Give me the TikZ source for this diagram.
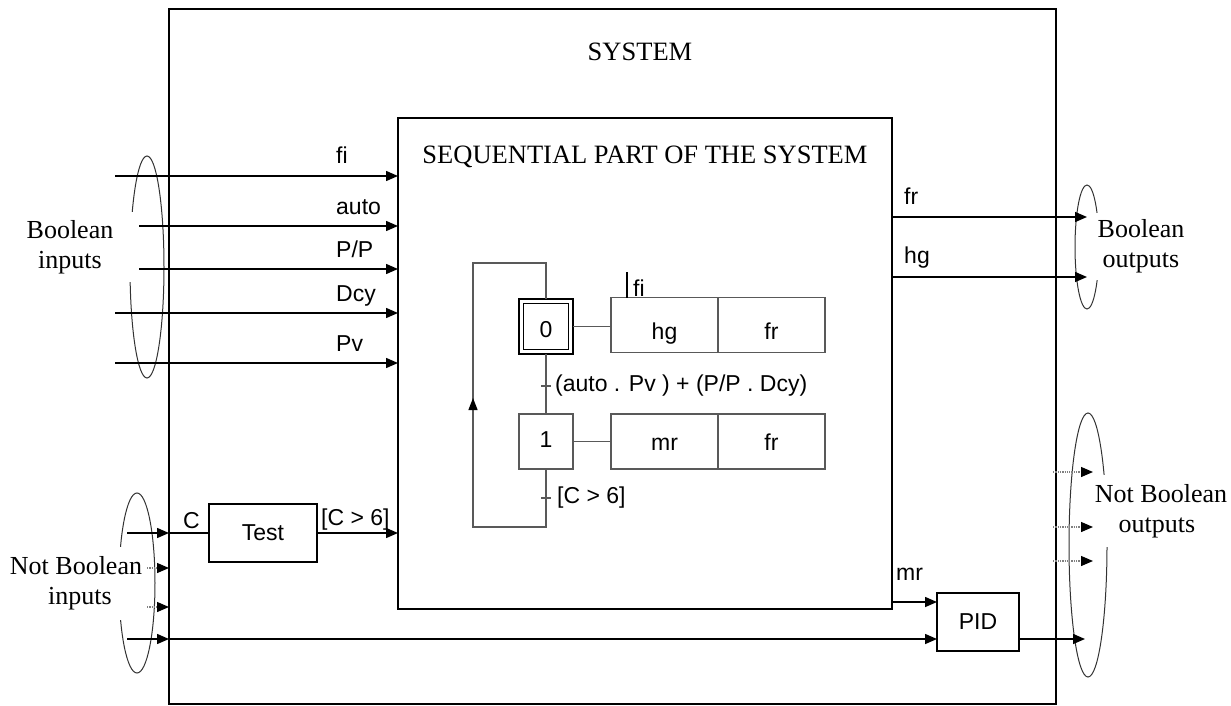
\documentclass[tikz,border=0pt]{standalone}
\usepackage{fontspec}
\setmainfont{Liberation Serif}
\setsansfont{Liberation Sans}
\usetikzlibrary{arrows.meta,shapes.geometric}
\begin{document}
\begin{tikzpicture}[x=1pt,y=-1pt,
  serif/.style={font=\fontsize{26.5}{30}\selectfont, inner sep=1pt},
  sans/.style={font=\sffamily\fontsize{23}{27}\selectfont, inner sep=1pt},
  bigbox/.style={draw, line width=2.6pt, inner sep=0pt, outer sep=0pt},
  smallbox/.style={draw, line width=1.3pt, inner sep=0pt, outer sep=0pt, font=\sffamily\fontsize{23}{27}\selectfont},
  gfc/.style={draw=black!65, line width=1.3pt},
  stepbox/.style={draw=black!65, line width=1.3pt, inner sep=0pt, outer sep=0pt, minimum width=54pt, minimum height=55pt, font=\sffamily\fontsize{23}{27}\selectfont},
  actbox/.style={draw=black!65, line width=1.3pt, inner sep=0pt, outer sep=0pt, minimum width=107pt, minimum height=55pt, font=\sffamily\fontsize{23}{27}\selectfont},
  toprow/.style={text height=29pt, text depth=1pt},
  lowrow/.style={text height=18pt, text depth=1pt},
  arr/.style={line width=1.5pt, -{Triangle[length=12pt,width=10pt]}},
  darr/.style={line width=1.3pt, densely dotted, draw=black!50, -{Triangle[length=12pt,width=10pt,color=black]}},
  grp/.style={draw=black!80, line width=1pt, ellipse, inner sep=0pt, outer sep=0pt},
  cover/.style={fill=white, align=center, inner sep=0pt, font=\fontsize{26}{30}\selectfont}
]
\useasboundingbox (0,0) rectangle (1231,706);

% group ellipses
\node[grp, minimum width=34pt, minimum height=222pt] (e1) at (147,267) {};
\node[grp, minimum width=36pt, minimum height=180pt] (e2) at (137,583) {};
\node[grp, minimum width=24pt, minimum height=124pt] (e3) at (1087,247) {};
\node[grp, minimum width=38pt, minimum height=264pt] (e4) at (1088,545) {};

\node[cover, minimum width=130pt, minimum height=70pt] (bin) at (70,247) {Boolean\\inputs};
\node[cover, minimum width=140pt, minimum height=73pt] (nbin) at (76,583) {Not Boolean\\\hspace*{8pt}inputs};
\node[cover, minimum width=96pt, minimum height=67pt] (bout) at (1141,246.5) {Boolean\\outputs};
\node[cover, minimum width=136pt, minimum height=72pt] (nbout) at (1161,511) {Not Boolean\\outputs\hspace*{8pt}};

% main boxes
\node[bigbox, minimum width=887pt, minimum height=695pt] (sys) at (612.5,356.5) {};
\node[serif] (systitle) at (640,52) {SYSTEM};
\node[bigbox, minimum width=494pt, minimum height=491pt] (seq) at (645,363.5) {};
\node[serif] (seqtitle) at (645,157) {SEQUENTIAL PART OF THE SYSTEM};

% boolean inputs
\coordinate (i1) at (115,176);
\coordinate (i2) at (139,226);
\coordinate (i3) at (139,269);
\coordinate (i4) at (115,313);
\coordinate (i5) at (115,363);
\draw[arr] (i1) -- (i1 -| seq.west);
\draw[arr] (i2) -- (i2 -| seq.west);
\draw[arr] (i3) -- (i3 -| seq.west);
\draw[arr] (i4) -- (i4 -| seq.west);
\draw[arr] (i5) -- (i5 -| seq.west);
\node[sans, anchor=base west] (lfi) at (335,163.5) {fi};
\node[sans, anchor=base west] (lauto) at (335,214) {auto};
\node[sans, anchor=base west] (lpp) at (335,257.5) {P/P};
\node[sans, anchor=base west] (ldcy) at (335,301.5) {Dcy};
\node[sans, anchor=base west] (lpv) at (335,351.5) {Pv};

% boolean outputs
\coordinate (o1) at (1087,217);
\coordinate (o2) at (1087,277);
\draw[arr] (o1 -| seq.east) -- (o1);
\draw[arr] (o2 -| seq.east) -- (o2);
\node[sans, anchor=base west] (lfr) at (903,204) {fr};
\node[sans, anchor=base west] (lhg) at (903,263) {hg};

% not boolean inputs
\node[smallbox, minimum width=108pt, minimum height=58pt] (test) at (263,533) {Test};
\coordinate (c0) at (127,533);
\coordinate (n2) at (147,568);
\coordinate (n3) at (147,607);
\coordinate (n4) at (127,639);
\draw[arr] (c0) -- (c0 -| sys.west);
\draw[line width=1.5pt] (c0 -| sys.west) -- (test.west);
\draw[darr] (n2) -- (n2 -| sys.west);
\draw[darr] (n3) -- (n3 -| sys.west);
\draw[arr] (n4) -- (n4 -| sys.west);
\node[sans, anchor=base west] (lc) at (182,528) {C};
\draw[arr] (test.east) -- (test.east -| seq.west);
\node[sans, anchor=base west] (lc6) at (320,525) {[C > 6]};

% PID
\node[smallbox, minimum width=82pt, minimum height=58pt] (pid) at (978,622) {PID};
\coordinate (m1) at (892,602);
\draw[arr] (m1) -- (m1 -| pid.west);
\node[sans, anchor=base west] (lmr) at (895,580) {mr};
\draw[arr] (n4 -| sys.west) -- (n4 -| pid.west);
\coordinate (p1) at (1085,639);
\draw[arr] (p1 -| pid.east) -- (p1);

% not boolean outputs
\coordinate (q1) at (1093,472);
\coordinate (q2) at (1093,527);
\coordinate (q3) at (1093,561);
\draw[darr] (1053,472) -- (q1);
\draw[darr] (1053,527) -- (q2);
\draw[darr] (1053,561) -- (q3);

% grafcet
\node[stepbox, draw=black, text height=22pt, text depth=1pt] (s0) at (546,326.5) {0};
\draw[gfc, draw=black] ([shift={(4.5,4.5)}]s0.north west) rectangle ([shift={(-4.5,-4.5)}]s0.south east);
\node[stepbox, text height=12pt, text depth=1pt] (s1) at (546,441.5) {1};
\node[actbox, toprow] (a0l) at (664.5,325) {hg};
\node[actbox, toprow] (a0r) at (771.5,325) {fr};
\node[actbox, lowrow] (a1l) at (664.5,441.5) {mr};
\node[actbox, lowrow] (a1r) at (771.5,441.5) {fr};
\draw[gfc] (s0.east) -- (s0.east -| a0l.west);
\draw[gfc] (s1.east) -- (a1l.west);
\draw[gfc] (s0.south) -- (s1.north);
\draw[gfc] (s1.south) -- (s1.south |- 0,527) -| (473,263) -| (s0.north);
\draw[gfc, -{Triangle[length=12pt,width=9pt,color=black]}] (473,418) -- (473,398);
\coordinate (t1) at (546,386);
\coordinate (t2) at (546,498);
\draw[gfc] ([xshift=-5pt]t1) -- ([xshift=5pt]t1);
\draw[gfc] ([xshift=-5pt]t2) -- ([xshift=5pt]t2);
\node[sans, anchor=west] (lt1) at (554,386) {(auto . Pv ) + (P/P . Dcy)};
\node[sans, anchor=west] (lt2) at (556,498) {[C > 6]};
\coordinate (f0) at (627,272);
\draw[gfc, draw=black] (f0) -- (f0 |- a0l.north);
\node[sans, anchor=base west] (lfi2) at (632,296) {fi};
\end{tikzpicture}
\end{document}
